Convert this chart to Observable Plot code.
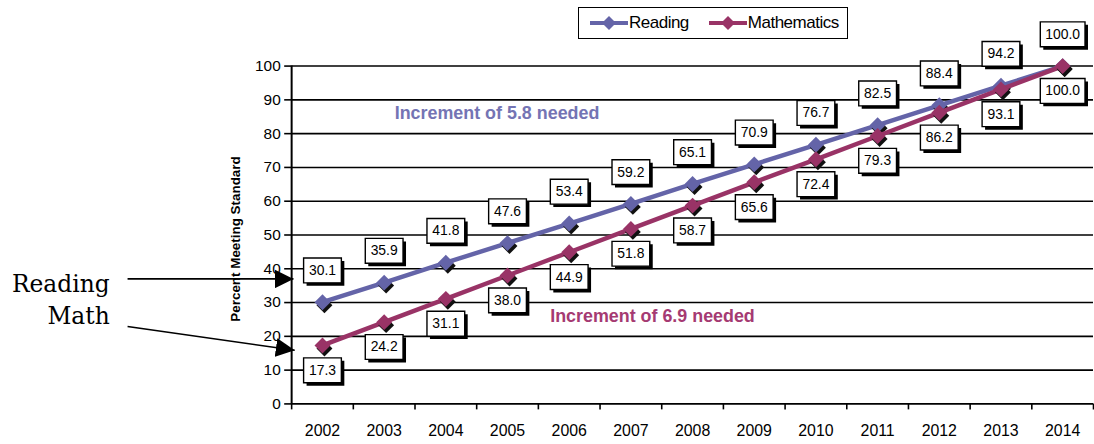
<!DOCTYPE html>
<html>
<head>
<meta charset="utf-8">
<script src="https://cdn.jsdelivr.net/npm/d3@7"></script>
<script src="https://cdn.jsdelivr.net/npm/@observablehq/plot@0.6"></script>
<style>
  html, body { margin: 0; padding: 0; background: #fff; overflow: hidden; }
  #wrap { position: relative; width: 1094px; height: 444px; }
  #legend {
    position: absolute; left: 578px; top: 7px; width: 268px; height: 30px;
    border: 1.6px solid #000; background: #fff; display: flex; align-items: center;
    font-family: "Liberation Sans", Arial, sans-serif; font-size: 17px; letter-spacing: -0.5px;
  }
  #legend .item { display: flex; align-items: center; margin-left: 10px; }
  #legend .item + .item { margin-left: 19px; }
  #legend svg { display: block; }
</style>
</head>
<body>
<div id="wrap"></div>
<script>
// Years on the x axis
const years = [2002, 2003, 2004, 2005, 2006, 2007, 2008, 2009, 2010, 2011, 2012, 2013, 2014];
// Annual targets, percent meeting standard
const readingValues = [30.1, 35.9, 41.8, 47.6, 53.4, 59.2, 65.1, 70.9, 76.7, 82.5, 88.4, 94.2, 100.0];
const mathValues = [17.3, 24.2, 31.1, 38.0, 44.9, 51.8, 58.7, 65.6, 72.4, 79.3, 86.2, 93.1, 100.0];
const yTicks = [0, 10, 20, 30, 40, 50, 60, 70, 80, 90, 100];
const seriesNames = ["Reading", "Mathematics"];
const yLabel = "Percent Meeting Standard";
// Notes placed in data units
const incrementNotes = [
  {x: 2004.83, y: 85.9, text: "Increment of 5.8 needed", series: "Reading"},
  {x: 2007.35, y: 25.9, text: "Increment of 6.9 needed", series: "Mathematics"}
];
// Side callouts with arrows pointing at the first year's values
const callouts = [
  {text: "Reading", tx: 1998.55, ty: 35.4, x1: 1998.84, y1: 37.0, x2: 2001.53, y2: 37.0},
  {text: "Math", tx: 1998.55, ty: 26.0, x1: 1998.84, y1: 22.9, x2: 2001.55, y2: 15.9}
];

const colors = {Reading: "#6464a8", Mathematics: "#993366"};
const noteColors = {Reading: "#7474b4", Mathematics: "#a53a72"};

const fmt = d3.format(".1f");
const reading = years.map((year, i) => ({year, value: readingValues[i], label: fmt(readingValues[i])}));
const math = years.map((year, i) => ({year, value: mathValues[i], label: fmt(mathValues[i])}));

// Square diamond marker (rotated square) and rectangular label box symbols
const diamond = (h) => ({draw(ctx) { ctx.moveTo(0, -h); ctx.lineTo(h, 0); ctx.lineTo(0, h); ctx.lineTo(-h, 0); ctx.closePath(); }});
const box = (w, h) => ({draw(ctx) { ctx.rect(-w / 2, -h / 2, w, h); }});

const font = "'Liberation Sans', Arial, sans-serif";

function labelMarks(data, dy) {
  const groups = [
    {rows: data.filter(d => d.label.length <= 4), w: 38},
    {rows: data.filter(d => d.label.length > 4), w: 45}
  ];
  const marks = [];
  for (const g of groups) {
    marks.push(Plot.dot(g.rows, {x: "year", y: "value", symbol: box(g.w, 25), dx: 3, dy: dy + 3, fill: "#000", stroke: "none"}));
    marks.push(Plot.dot(g.rows, {x: "year", y: "value", symbol: box(g.w, 25), dy, fill: "#fff", stroke: "#000", strokeWidth: 1.4}));
  }
  marks.push(Plot.text(data, {x: "year", y: "value", text: "label", dy, fontSize: 14, fontFamily: font, fill: "#000", letterSpacing: -0.4}));
  return marks;
}

function seriesMarks(data, color) {
  return [
    Plot.line(data, {x: "year", y: "value", stroke: color, strokeWidth: 4.5}),
    Plot.dot(data, {x: "year", y: "value", symbol: diamond(8), dx: 2, dy: 3, fill: "#111", stroke: "none"}),
    Plot.dot(data, {x: "year", y: "value", symbol: diamond(8), fill: color, stroke: "none"})
  ];
}

const chart = Plot.plot({
  width: 1101,
  height: 444,
  marginLeft: 293,
  marginRight: 1,
  marginTop: 66,
  marginBottom: 38,
  style: {fontFamily: font, background: "transparent", overflow: "visible"},
  x: {domain: [2001.5, 2014.5]},
  y: {domain: [0, 100]},
  marks: [
    Plot.ruleY(yTicks, {stroke: "#000", strokeWidth: 1.6}),
    Plot.ruleX([2001.5], {stroke: "#000", strokeWidth: 2}),
    Plot.axisY({ticks: yTicks, tickSize: 7, tickPadding: 4, fontSize: 15.5, label: null, stroke: "#000", strokeWidth: 1.6, fill: "#000"}),
    Plot.axisX({ticks: years, tickSize: 0, tickPadding: 21, fontSize: 16, label: null, tickFormat: d => String(d), fill: "#000"}),
    Plot.axisX({ticks: years.map(y => y - 0.5).concat([2014.5]), tickSize: 6, tickFormat: () => "", label: null, stroke: "#000", strokeWidth: 1.6}),
    Plot.text([yLabel], {frameAnchor: "left", textAnchor: "middle", rotate: -90, dx: -56, dy: 4, fontSize: 13.5, fontWeight: "bold", letterSpacing: 0.4, fill: "#000"}),
    ...seriesMarks(reading, colors.Reading),
    ...seriesMarks(math, colors.Mathematics),
    ...labelMarks(reading, -32),
    ...labelMarks(math, 25),
    Plot.text(incrementNotes, {x: "x", y: "y", text: "text", fill: d => noteColors[d.series], fontSize: 18, fontWeight: "bold"}),
    Plot.link(callouts, {x1: "x1", y1: "y1", x2: "x2", y2: "y2", stroke: "#000", strokeWidth: 1.6}),
    Plot.text(callouts, {x: "tx", y: "ty", text: "text", textAnchor: "end", fontSize: 23.5, letterSpacing: 1.2, fontFamily: "'DejaVu Serif', serif", fill: "#000"})
  ]
});

// Filled triangular arrowheads on the callout links
const svg = d3.select(chart);
svg.append("defs").append("marker")
  .attr("id", "callout-head")
  .attr("viewBox", "0 0 19 19")
  .attr("refX", 19).attr("refY", 9.5)
  .attr("markerUnits", "userSpaceOnUse")
  .attr("markerWidth", 19).attr("markerHeight", 19)
  .attr("orient", "auto")
  .append("path").attr("d", "M0,0L19,9.5L0,19Z").attr("fill", "#000");
svg.selectAll("g[aria-label=link] path").attr("marker-end", "url(#callout-head)");

const wrap = document.getElementById("wrap");
wrap.appendChild(chart);

// Legend
const legend = document.createElement("div");
legend.id = "legend";
for (const name of seriesNames) {
  const item = document.createElement("div");
  item.className = "item";
  const sw = d3.create("svg").attr("width", 40).attr("height", 16);
  sw.append("line").attr("x1", 1).attr("x2", 39).attr("y1", 8).attr("y2", 8)
    .attr("stroke", colors[name]).attr("stroke-width", 4);
  sw.append("path").attr("d", "M20,1L27,8L20,15L13,8Z").attr("fill", colors[name]);
  item.appendChild(sw.node());
  const label = document.createElement("span");
  label.textContent = name;
  item.appendChild(label);
  legend.appendChild(item);
}
wrap.appendChild(legend);
</script>
</body>
</html>
